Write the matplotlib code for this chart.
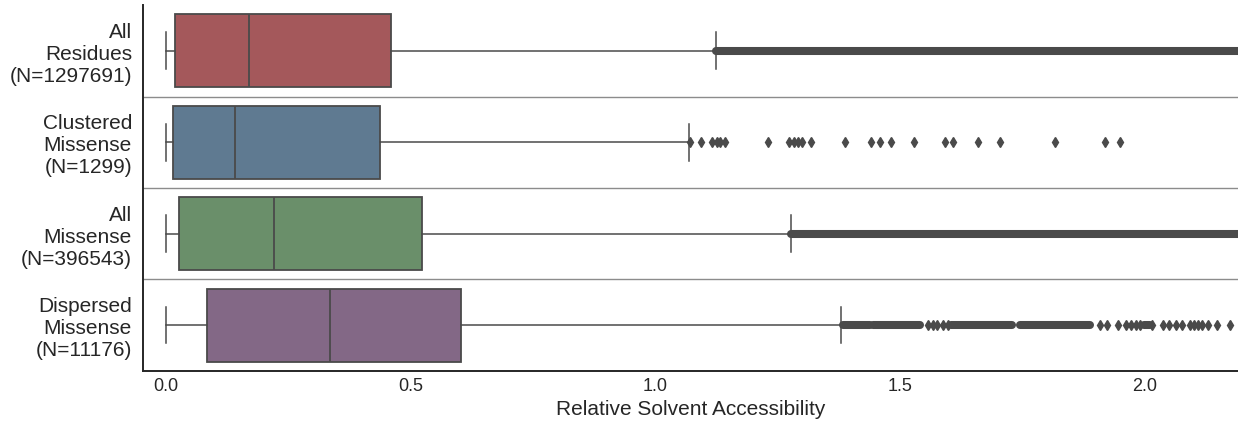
import matplotlib
matplotlib.use("Agg")
import matplotlib.pyplot as plt

plt.rcParams['font.family'] = ['Liberation Sans', 'DejaVu Sans']

# Groups, top to bottom
labels = ["All\nResidues\n(N=1297691)",
          "Clustered\nMissense\n(N=1299)",
          "All\nMissense\n(N=396543)",
          "Dispersed\nMissense\n(N=11176)"]
colors = ["#a4585b", "#5f7a91", "#6a8f6a", "#836886"]

# Box summary statistics of relative solvent accessibility
whis_lo = [0.0, 0.0, 0.0, 0.0]
q1 = [0.018, 0.014, 0.027, 0.084]
median = [0.170, 0.141, 0.220, 0.335]
q3 = [0.460, 0.437, 0.524, 0.602]
whis_hi = [1.124, 1.068, 1.277, 1.379]

# Individually visible outliers
fliers_clustered = [1.071, 1.092, 1.115, 1.126, 1.132, 1.142, 1.230, 1.273,
                    1.282, 1.292, 1.299, 1.318, 1.388, 1.440, 1.459, 1.481,
                    1.529, 1.591, 1.608, 1.658, 1.704, 1.816, 1.919, 1.949]
fliers_dispersed = [1.557, 1.566, 1.575, 1.588, 1.598, 1.908, 1.922, 1.945,
                    1.961, 1.971, 1.982, 1.990, 2.015, 2.036, 2.050, 2.063,
                    2.076, 2.092, 2.100, 2.108, 2.116, 2.129, 2.147, 2.174]
fliers = [[], fliers_clustered, [], fliers_dispersed]

# Runs of outliers too dense to separate: (group index, start, end)
dense_runs = [(0, 1.124, 2.30),
              (2, 1.277, 2.30),
              (3, 1.383, 1.438), (3, 1.444, 1.540), (3, 1.603, 1.728),
              (3, 1.745, 1.888), (3, 1.997, 2.010)]

edge = "#4a4a4a"

fig = plt.figure(figsize=(12.38, 4.21), dpi=100)
ax = fig.add_axes([0.1155, 0.119, 0.8845, 0.869])

stats = []
for i in range(len(labels)):
    stats.append(dict(whislo=whis_lo[i], q1=q1[i], med=median[i], q3=q3[i],
                      whishi=whis_hi[i], fliers=fliers[i]))

bp = ax.bxp(stats, positions=range(len(labels)), vert=False, widths=0.8,
            patch_artist=True, showfliers=True, capwidths=0.4,
            boxprops=dict(edgecolor=edge, linewidth=1.3),
            medianprops=dict(color=edge, linewidth=1.3),
            whiskerprops=dict(color=edge, linewidth=1.1),
            capprops=dict(color=edge, linewidth=1.1),
            flierprops=dict(marker='d', markersize=5.5, markerfacecolor=edge,
                            markeredgecolor=edge, linestyle='none'))
for patch, c in zip(bp['boxes'], colors):
    patch.set_facecolor(c)

for g, start, end in dense_runs:
    ax.plot([start, end], [g, g], color=edge, linewidth=5.8,
            solid_capstyle='round', zorder=3)

for sep in [0.5, 1.5, 2.5]:
    ax.axhline(sep, color="#8c8c8c", linewidth=1.0, zorder=0)

ax.set_xlim(-0.047, 2.19)
ax.set_ylim(3.5, -0.5)
ax.set_yticks(range(len(labels)))
ax.set_yticklabels(labels, fontsize=15, ha='right')
ax.set_xticks([0.0, 0.5, 1.0, 1.5, 2.0])
ax.set_xticklabels(["0.0", "0.5", "1.0", "1.5", "2.0"], fontsize=13,
                   color="#262626")
ax.tick_params(axis='both', length=0)
ax.tick_params(axis='y', pad=8, colors="#262626")
ax.tick_params(axis='x', pad=5)
ax.set_xlabel("Relative Solvent Accessibility", fontsize=15, color="#262626",
              labelpad=4)

for side in ['top', 'right']:
    ax.spines[side].set_visible(False)
for side in ['left', 'bottom']:
    ax.spines[side].set_color("#262626")
    ax.spines[side].set_linewidth(1.4)

fig.savefig("out.png", dpi=100)
